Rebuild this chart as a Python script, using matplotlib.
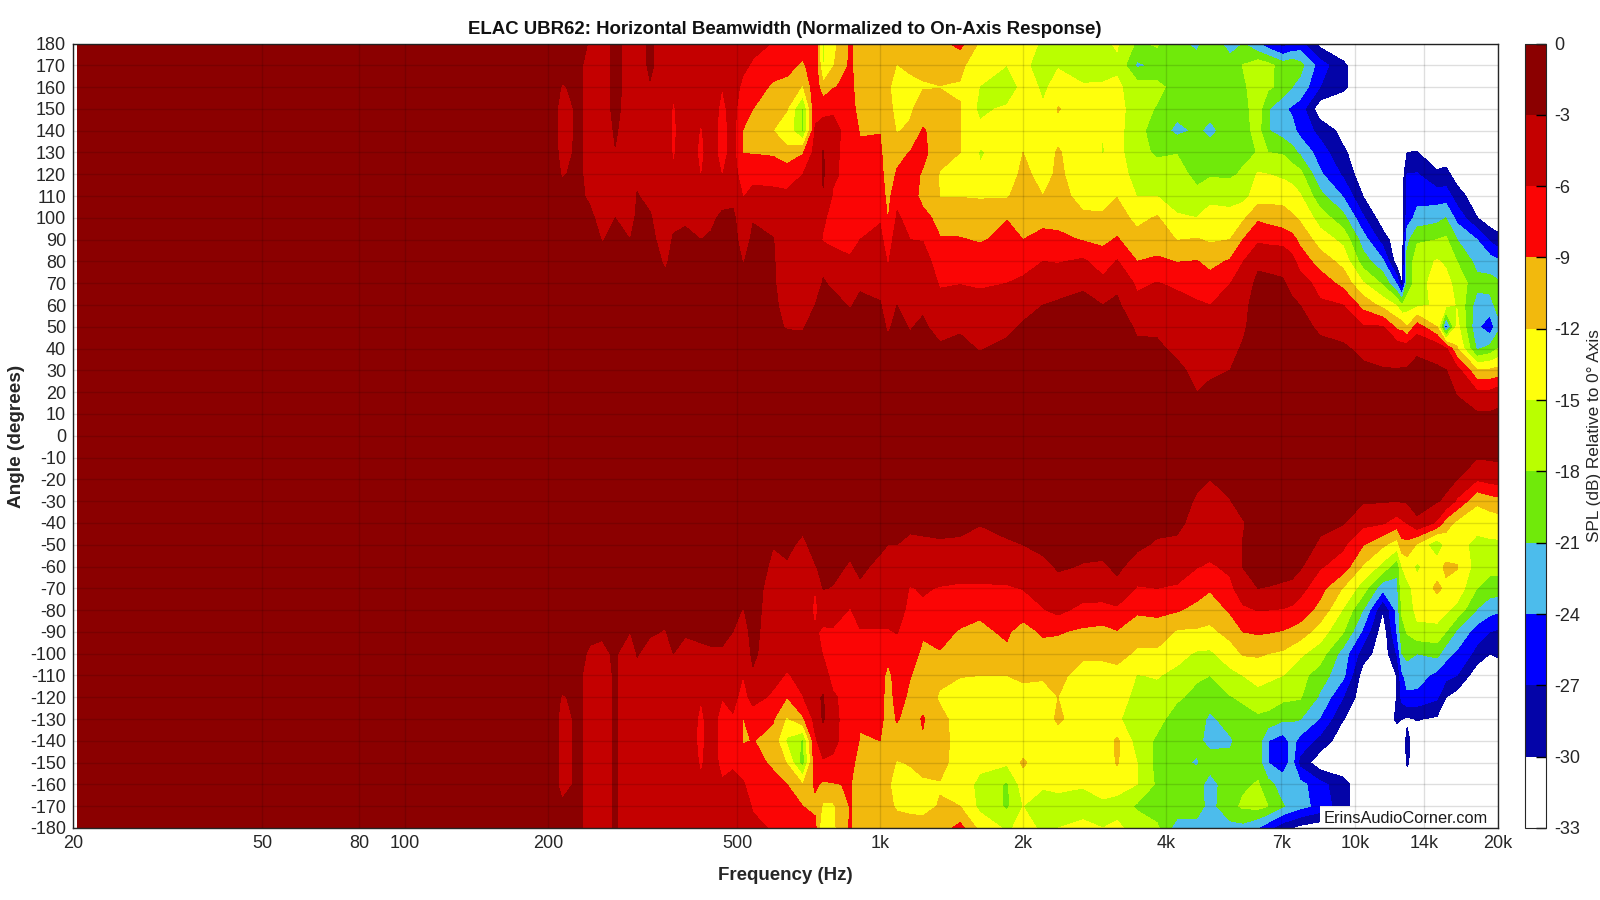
import numpy as np
from matplotlib import pyplot as plt

plt.rcParams["font.family"] = ["Liberation Sans", "DejaVu Sans"]
plt.rcParams["axes.unicode_minus"] = False

freqs = [20.4, 200, 214, 233.6, 245, 260, 277, 298, 308, 328, 353, 367, 389, 420, 441, 465, 490, 515, 540, 595, 637, 688,
         730, 759, 796, 865, 908, 1000, 1039, 1086, 1157, 1231, 1337, 1474, 1623, 1851, 2000, 2203, 2370, 2674,
         2947, 3155, 3476, 3829, 4219, 4648, 4950, 5455, 5809, 6250, 6560, 7050, 7370, 7660, 8440, 9440, 10390, 11450,
         12260, 12560, 12870, 13510, 14880, 15540, 16390, 18060, 19230, 20000]
angles = list(range(-180, 181, 10))

# one row per frequency, angle 0 to +180 in 10 degree steps
upper_db = [
    [0,0,-1,-1,-1,-1,-1,-1,-1,-2,-2,-2,-2,-2,-2,-2,-2,-2,-2],
    [0,0,-1,-1,-1,-1,-1,-1,-1,-2,-2,-2,-2,-2,-2,-2,-2,-2,-2],
    [0,0,-1,-1,-1,-1,-1,-1,-2,-2,-2,-2.5,-3.1,-3.4,-3.5,-3.5,-3.1,-2.5,-2],
    [0,0,-1,-1,-1,-1,-1,-1,-1.5,-2,-2.5,-2.7,-2.7,-2.7,-2.7,-2.7,-2.7,-2.7,-2.7],
    [0,0,-1,-1,-1,-1,-1,-1,-1,-2,-2.6,-3.3,-3.8,-3.8,-3.8,-3.8,-3.8,-3.8,-3.1],
    [0,0,-1,-1,-1,-1,-1,-2,-2.5,-3.1,-3.7,-4.5,-4.5,-4.5,-4.5,-4.5,-4.5,-4.5,-4.5],
    [0,0,-1,-1,-1,-1,-1,-1.5,-2,-2.5,-3,-4,-3.6,-3.1,-2.7,-2.2,-2,-2,-2],
    [0,0,-1,-1,-1,-1,-1,-1.5,-2,-3,-4,-4.5,-4.5,-4.5,-4.5,-4.5,-4.5,-4.5,-4.5],
    [0,0,-1,-1,-1,-1,-1,-1,-1.5,-2,-2.5,-2.9,-3.4,-4.5,-4.5,-4.5,-4.5,-4.5,-4.5],
    [0,0,-1,-1,-1,-1,-1,-1.5,-2,-2.4,-2.8,-3.5,-4.5,-4.5,-4.5,-4.5,-3.2,-2.5,-2.5],
    [0,0,-1,-1,-1,-1,-2,-2.5,-3.3,-4,-4.5,-4.5,-4.5,-4.5,-4.5,-4.5,-4.5,-4.5,-4.5],
    [0,0,-1,-1,-1,-1,-1,-2,-2.4,-2.8,-3.5,-4.5,-5.7,-6.3,-6.5,-6.3,-5.5,-4.5,-4.5],
    [0,0,-1,-1,-1,-1,-1,-1.5,-2,-2.7,-3.2,-4.5,-4.5,-4.5,-4.5,-4.5,-4.5,-4.5,-4.5],
    [0,0,-1,-1,-1,-1,-1,-1.5,-2.3,-3,-3.8,-4.5,-6.1,-6.5,-6.2,-5.5,-4.5,-4.5,-4.5],
    [0,0,-1,-1,-1,-1,-1,-1.5,-2,-2.8,-3.3,-4.2,-4.5,-4.8,-4.8,-4.8,-4.5,-4.5,-4.5],
    [0,0,-1,-1,-1,-1,-1,-1,-2,-2.5,-2.7,-3.6,-6.1,-7,-7,-6.6,-6,-5,-4.5],
    [0,0,-1,-1,-1,-1,-1,-1.5,-2,-2.4,-2.6,-3.5,-4.7,-5,-5,-5,-4.9,-4.8,-4.6],
    [0,0,-1,-1,-1,-1,-1.5,-2.5,-3.1,-3.7,-4.2,-6.1,-7.5,-9.1,-9.1,-7.8,-6.6,-5.5,-5],
    [0,0,-1,-1,-1,-1,-1.5,-2,-2.4,-2.7,-3.1,-5.5,-6.5,-9.2,-9.5,-9,-7.5,-6.3,-5.3],
    [0,-.5,-1,-1.5,-2,-2.7,-2.7,-2.8,-2.8,-2.9,-3.8,-5.5,-6.7,-9.5,-12,-11,-9.5,-7.5,-6.1],
    [0,-.5,-1,-1.5,-2.3,-3.1,-3.5,-3.8,-4.2,-4.5,-5,-5.7,-6.7,-11.5,-13,-11.9,-10,-8,-7],
    [0,-.5,-1,-1.5,-2.6,-3.1,-3.5,-4,-4.5,-5,-5.3,-5.7,-6,-9.3,-18.5,-18.5,-12.3,-9.5,-7.5],
    [0,-.5,-1,-1.5,-2,-2.5,-3,-3.6,-4,-4.5,-4.8,-5,-5,-5,-5.8,-6.5,-7,-7,-7],
    [0,-.5,-1,-1.5,-2,-2.5,-2.7,-2.9,-3.3,-6.3,-5.5,-3.2,-2.7,-2.8,-4.8,-6.8,-11,-15.2,-15.5],
    [0,-.5,-1,-1.5,-2,-2.2,-2.6,-3.2,-5.1,-6.5,-7.1,-6.3,-5.5,-5.3,-4.8,-6.5,-9.2,-12.3,-13],
    [0,-.5,-1,-1.5,-2,-2.5,-3.1,-3.7,-5.8,-6.5,-6.5,-7,-7,-7.3,-7.5,-8,-8.3,-8.5,-8.5],
    [0,-.5,-1,-1.5,-2,-2.2,-2.7,-3.2,-4.5,-6,-7,-7.5,-8,-8.5,-9.2,-10,-10.3,-10.5,-10.5],
    [0,-.5,-1,-1.5,-2,-2.5,-2.9,-3.4,-4,-5.2,-6.3,-7.2,-8,-8.5,-9.1,-10.2,-10.8,-11,-11],
    [0,-.5,-1,-2,-2.6,-3.2,-3.6,-5.5,-6.3,-7.5,-9.2,-10,-10.5,-10.7,-10.8,-11,-11.5,-11,-11],
    [0,-.5,-1,-1.5,-2,-2.6,-3,-3.5,-4,-4.5,-5.6,-6.8,-8.7,-9.8,-12.2,-13,-13.5,-12.1,-11],
    [0,-.5,-1,-2,-2.6,-3.1,-3.5,-3.9,-5,-6,-7,-7.5,-8,-8.9,-11.5,-12.5,-13.5,-11,-10.5],
    [0,-.5,-1,-2,-2.5,-2.7,-3.3,-4,-4.9,-6.1,-8,-10,-9.3,-8.2,-8.7,-10.5,-12.2,-11.5,-10.5],
    [0,-.5,-1,-2,-2.7,-3.7,-5,-6.3,-7.2,-8.8,-10,-12.1,-12.2,-11,-10.5,-10.5,-12.1,-10.5,-10],
    [0,-.5,-1,-2,-2.6,-3.2,-4.6,-6.1,-7,-8.8,-10.5,-12.1,-13.5,-12,-11.9,-11.9,-12.2,-11.5,-8],
    [0,-.5,-1.5,-2.3,-3.1,-3.9,-5.2,-6.3,-7.3,-9.3,-10.8,-12.2,-14.8,-15.2,-14.2,-15.8,-15.1,-13.5,-12.5],
    [0,-.5,-1,-2,-2.6,-3.4,-4.4,-6,-7.2,-8.2,-9.1,-12.3,-13.5,-14,-14,-14.3,-18,-15,-13],
    [0,-.5,-1,-1.5,-2.2,-2.8,-3.6,-5.5,-7,-9,-9.8,-10.5,-11.3,-12,-13,-12,-13.5,-14,-13.5],
    [0,-.5,-1,-1.5,-2,-2.6,-3,-4.5,-6,-8,-10,-12,-13,-13.5,-14,-14.7,-15.5,-17,-15.5],
    [0,-.5,-1,-1.5,-1.8,-2,-2.7,-4,-6.2,-8.3,-10,-11,-11.5,-11.7,-13,-11.8,-14,-15.2,-15.3],
    [0,-.5,-1,-1.5,-1.8,-2,-2.5,-3.3,-5.5,-9.2,-11.5,-13,-13.5,-14,-14,-14,-14.8,-16,-15.5],
    [0,-.5,-1,-1.5,-2,-2.5,-3,-5.2,-7.5,-9.7,-11.6,-13,-13.7,-15.1,-15,-14,-14.7,-16,-15.5],
    [0,-.5,-1,-1.5,-1.8,-2,-2.5,-3.6,-5.8,-8.7,-10.8,-12.1,-13.2,-14,-14,-14,-14.5,-15.5,-14.7],
    [0,-.5,-1,-2,-2.6,-3.3,-5.2,-6.5,-9,-11,-12.8,-15.1,-16.5,-17,-17,-16.5,-16.5,-21.5,-18.5],
    [0,-.5,-1,-2,-2.7,-3.3,-4.8,-5.9,-8.5,-10.5,-11.7,-15,-16.5,-18.5,-19.5,-18.3,-17,-20.5,-17.5],
    [0,-.5,-1.5,-2.6,-3.4,-4,-5.2,-6.4,-9.1,-12.1,-14.6,-16.5,-17,-18.1,-21.8,-20,-19.5,-19.5,-20.5],
    [0,-1,-3,-3.5,-4.2,-4.8,-5.7,-7,-8.9,-11.8,-15,-17.3,-18.8,-19.5,-20.5,-20,-19.5,-20,-21.5],
    [0,-1,-2.5,-3.4,-4,-4.5,-6,-7.9,-9.8,-12.4,-14,-15.7,-18.4,-19.5,-21.8,-20,-19.5,-19.5,-19.5],
    [0,-.5,-2,-3,-3.5,-4,-4.8,-6.1,-8.7,-12,-14.1,-16,-18.5,-19,-19.5,-19,-19,-20,-22],
    [0,-.5,-1,-2,-2.8,-3.3,-3.6,-4.2,-6.1,-9,-12.6,-16,-17.6,-18.7,-19,-19,-18.5,-17.9,-21],
    [0,-.5,-1,-1.5,-1.8,-2,-2,-2.5,-3.4,-6.5,-9.5,-13.5,-14.7,-17.9,-17,-16.5,-16.5,-16,-24],
    [0,-.5,-1,-1.5,-1.8,-2,-2.2,-2.6,-3.5,-6.8,-10,-13.2,-15,-18,-20.8,-20.8,-17.5,-17,-26],
    [0,-.5,-1,-1.5,-1.8,-2,-2.4,-2.8,-3.6,-7.1,-10.8,-13,-15.6,-18.3,-22.5,-23.5,-19,-19.5,-28.5],
    [0,-.5,-1,-1.5,-1.9,-2.2,-2.7,-3.5,-5,-8,-11.5,-13.8,-16,-20,-23,-24.5,-21,-18.7,-27],
    [0,-.5,-1,-1.5,-2,-2.3,-3,-4.5,-7.3,-9.7,-12.5,-14.7,-17,-21.5,-25,-25.5,-22,-20,-26],
    [0,-.5,-1,-1.5,-2.4,-3.4,-5.5,-7.2,-10.3,-13.5,-16.3,-20,-23.5,-25.5,-28,-32,-27,-25.5,-31],
    [0,-.5,-1,-1.5,-2.7,-3.8,-6,-10,-13,-15.8,-20,-24.2,-27.5,-29.5,-31,-32,-29.5,-29.5,-32],
    [0,-.5,-1,-2.6,-3.5,-5.7,-10,-14.7,-19.5,-22.5,-26.5,-30,-32,-32,-32,-32,-32,-32,-32],
    [0,-.5,-1,-2.8,-4.2,-5.8,-13,-18.5,-23.5,-28.5,-32,-32,-32,-32,-32,-32,-32,-32,-32],
    [0,-.5,-1,-2.9,-4.1,-9.7,-15.3,-24.5,-32,-32,-32,-32,-32,-32,-32,-32,-32,-32,-32],
    [0,-.5,-1,-2.8,-4.5,-10,-18,-30,-32,-32,-32,-32,-32,-32,-32,-32,-32,-32,-32],
    [0,-.5,-1,-2.8,-4.2,-12,-16.5,-20,-19.7,-22,-25.5,-26.5,-26.9,-30,-32,-32,-32,-32,-32],
    [0,-.5,-1.5,-2.5,-3.3,-7.5,-15.8,-16.5,-16.7,-18.3,-23,-25,-26.8,-29.9,-32,-32,-32,-32,-32],
    [0,-.5,-1.5,-2.7,-3.9,-12,-14.5,-13.5,-14.7,-18,-22,-25.5,-29.5,-32,-32,-32,-32,-32,-32],
    [0,-1,-2,-2.9,-5.5,-26,-14,-14,-15.5,-17.5,-21,-25.5,-29,-32,-32,-32,-32,-32,-32],
    [0,-2,-3.2,-4.7,-11.7,-14,-15.2,-16,-18,-21,-25,-28.5,-31.5,-32,-32,-32,-32,-32,-32],
    [0,-2.7,-5.5,-11.5,-21.5,-23.5,-22.5,-20,-22,-24,-29.9,-32,-32,-32,-32,-32,-32,-32,-32],
    [0,-2.7,-5.5,-11.5,-20,-26,-22,-20,-22.5,-27.5,-32,-32,-32,-32,-32,-32,-32,-32,-32],
    [0,-2.5,-4.5,-11,-18,-22,-20,-20.5,-23.5,-29,-32,-32,-32,-32,-32,-32,-32,-32,-32],
]

# one row per frequency, angle 0 to -180 in 10 degree steps
lower_db = [
    [0,0,-1,-1,-1,-1,-1,-1,-1,-2,-2,-2,-2,-2,-2,-2,-2,-2,-2],
    [0,0,-1,-1,-1,-1,-1,-1,-1,-2,-2,-2,-2,-2,-2,-2,-2,-2,-2],
    [0,0,-1,-1,-1,-1,-1,-1,-2,-2,-2.3,-2.5,-3.1,-3.4,-3.4,-3.4,-3.4,-2.8,-2],
    [0,0,-1,-1,-1,-1,-1,-1,-1.5,-2,-2.5,-2.7,-2.7,-2.7,-2.7,-2.7,-2.7,-2.7,-2.7],
    [0,0,-1,-1,-1,-1,-1,-1,-2,-2.5,-3.3,-4,-4,-4,-4,-4,-4,-4,-3.9],
    [0,0,-1,-1,-1,-1,-1,-1,-2,-2.8,-3.3,-4,-4,-4,-4,-4,-4,-4,-4],
    [0,0,-1,-1,-1,-1,-1,-1,-2,-2.3,-2.8,-2.7,-2.7,-2.7,-2.7,-2.7,-2.7,-2.7,-2.7],
    [0,0,-1,-1,-1,-1,-1,-2,-2.5,-3,-4,-4.5,-4.5,-4.5,-4.5,-4.5,-4.5,-4.5,-4.5],
    [0,0,-1,-1,-1,-1,-1,-1,-2,-2.4,-2.9,-3.5,-4.5,-4.5,-4.5,-4.5,-4.5,-4.5,-4.5],
    [0,0,-1,-1,-1,-1,-1,-2,-2.4,-2.8,-3.6,-4.5,-4.5,-4.5,-4.5,-4.5,-4.5,-4.5,-4.5],
    [0,0,-1,-1,-1,-1,-1,-2,-2.5,-3.1,-3.8,-4.5,-4.5,-4.5,-4.5,-4.5,-4.5,-4.5,-4.5],
    [0,0,-1,-1,-1,-1,-1,-1.5,-2,-2.4,-3,-4,-4.5,-4.5,-4.5,-4.5,-4.5,-4.5,-4.5],
    [0,0,-1,-1,-1,-1,-1,-1.5,-2,-2.8,-3.6,-4.5,-4.5,-4.5,-4.5,-4.5,-4.5,-4.5,-4.5],
    [0,0,-1,-1,-1,-1,-1,-1.5,-2,-2.7,-3.3,-4.5,-5.9,-6.5,-6.6,-6.3,-5.7,-4.8,-4.5],
    [0,0,-1,-1,-1,-1,-1,-1.5,-2,-2.6,-3.2,-4.3,-4.7,-4.8,-4.8,-4.8,-4.7,-4.7,-4.5],
    [0,0,-1,-1,-1,-1,-1,-1.5,-2,-2.6,-3.2,-4.3,-5.9,-7,-7,-6.7,-5.7,-5,-4.5],
    [0,0,-1,-1,-1,-1,-1,-2,-2.5,-3,-3.5,-4.5,-5.2,-6.3,-6.6,-6.5,-5,-4.8,-4.5],
    [0,0,-1,-1,-1,-1,-1,-2.3,-3.1,-3.6,-4,-6,-7,-9.1,-9.3,-7,-5.8,-5,-4.7],
    [0,0,-1,-1,-1,-1,-1.5,-2,-2.3,-2.5,-2.7,-3.2,-5,-7.5,-8.9,-8,-7,-6.2,-5.5],
    [0,-.5,-1,-1.5,-2,-2.9,-3.5,-4,-4,-4,-4,-5,-6.5,-8.7,-10,-9.5,-8,-7,-6.2],
    [0,-.5,-1,-1.5,-2,-2.6,-3.2,-3.6,-3.8,-4,-4.5,-6.3,-9,-12.5,-15.5,-12.2,-9,-7.5,-6.5],
    [0,-.5,-1,-1.5,-2.5,-3.4,-3.7,-4,-4.5,-4.7,-4.8,-5,-6.1,-9.5,-18.5,-19.5,-12,-9,-7],
    [0,-.5,-1,-1.5,-2,-2.3,-3.1,-6,-6.5,-5.8,-4.5,-4.5,-3.5,-5,-6.5,-7,-8.5,-9.8,-8],
    [0,-.5,-1,-1.5,-2,-2.3,-2.6,-2.9,-5,-6.3,-6.2,-4.5,-2.8,-2.7,-4.5,-6.3,-9.5,-12.5,-15.3],
    [0,-.5,-1,-1.5,-2,-2.2,-2.5,-3.1,-4.5,-6.4,-7,-7.2,-5.5,-5.2,-5.3,-6.5,-9.2,-12.5,-12.7],
    [0,-.5,-1,-1.5,-2,-2.5,-3.2,-4.7,-6.2,-7,-7.5,-7.5,-7.5,-7.5,-7.5,-7.8,-8.8,-8.8,-8.7],
    [0,-.5,-1,-1.5,-2,-2.2,-2.6,-3.3,-4.7,-6.2,-7,-7.2,-7.5,-8.7,-9.2,-10.5,-10.5,-10.5,-10.5],
    [0,-.5,-1,-1.5,-2,-2.6,-3.5,-4,-4.5,-6.3,-7,-7.5,-7.8,-8.3,-9,-10.2,-10.5,-10.8,-10.8],
    [0,-.5,-1,-1.5,-2.6,-3,-3.3,-4,-5,-6.2,-8,-10,-10.3,-10,-9.9,-11,-11.5,-11.5,-11],
    [0,-.5,-1,-1.5,-2.5,-3,-3.5,-4.2,-4.8,-5.9,-7,-7.5,-8,-8.8,-10,-12.2,-13.5,-12.3,-11],
    [0,-.5,-1,-2,-2.6,-3.4,-3.7,-6.2,-6.8,-7.3,-8,-8.9,-9.5,-10,-10.5,-11.8,-13,-12.6,-11],
    [0,-.5,-1,-2,-2.7,-3.2,-3.8,-5.7,-6.5,-8.7,-9.5,-10,-9.9,-8.8,-9.2,-11,-12.5,-12.8,-11],
    [0,-.5,-1,-2,-2.5,-3.2,-4,-6.2,-7,-8,-9.2,-11,-12.5,-11,-10.7,-11,-12.2,-11.8,-10.5],
    [0,-.5,-1,-2,-2.5,-3.3,-5,-6.3,-7.5,-9.3,-10,-11.9,-13,-13.5,-13.5,-13.5,-14,-12,-8],
    [0,-.5,-1,-2,-2.9,-3.7,-4.6,-6.4,-8.6,-9.5,-10.5,-12,-13.5,-14,-14.2,-14.5,-15.5,-15.8,-13],
    [0,-.5,-1,-2,-2.5,-3.2,-4.5,-6.3,-7.5,-8.6,-9.5,-12,-13.5,-13.8,-14,-14.5,-18.5,-18.5,-15.5],
    [0,-.5,-1,-1.5,-2.2,-3,-4,-5.9,-7.6,-10.3,-10.5,-11.5,-13,-13.5,-14,-11.5,-13.5,-15,-14],
    [0,-.5,-1,-1.5,-2,-2.5,-3.5,-4.6,-6.2,-8.5,-10.5,-11.7,-13,-13.5,-14,-14.2,-14.3,-17.5,-15.5],
    [0,-.5,-1,-1.5,-1.8,-2.2,-2.8,-3.6,-5.2,-8.8,-10,-11.4,-12,-11.5,-13.5,-14,-14.7,-15.5,-15],
    [0,-.5,-1,-1.5,-1.8,-2.5,-3.1,-4.2,-7,-9.5,-11.5,-13,-13.6,-13.7,-14,-14,-14.5,-17.5,-13.5],
    [0,-.5,-1,-1.5,-1.8,-2.5,-3.2,-4,-7.2,-9.8,-11.5,-13,-14.2,-14.8,-14,-14,-14,-15.5,-15],
    [0,-.5,-1,-1.5,-1.8,-2.2,-2.7,-3.4,-6.6,-9.2,-11,-13,-13.5,-14.5,-11.5,-11.7,-14,-16,-14.5],
    [0,-.5,-1,-1.5,-2,-2.7,-3.6,-6.3,-8.5,-10.8,-12.5,-15.1,-16,-17,-16.3,-15,-15,-18.5,-16],
    [0,-.5,-1,-2,-2.5,-3.2,-4.5,-6,-8.5,-10,-12.7,-14.8,-16,-17,-18.5,-19,-18.5,-19.5,-17.5],
    [0,-.5,-1,-2,-2.5,-3.4,-4.3,-6.4,-8.7,-12.4,-14,-15.8,-17.5,-19.5,-20,-20.5,-18.7,-19,-22.5],
    [0,-1,-2.5,-3.3,-3.8,-4.4,-5.9,-7.5,-10,-12.4,-15.4,-17.5,-19,-19.5,-20.5,-21.2,-20,-19.8,-22],
    [0,-2.4,-3,-3.7,-4.3,-5,-6.3,-8.7,-10.7,-12.7,-15.5,-18,-19.5,-21.7,-21.7,-20,-22,-22,-22],
    [0,-1,-2.3,-3.1,-3.8,-4.4,-5.5,-6.6,-8.6,-11,-13.5,-15.8,-18.2,-19.5,-21.5,-20,-19.5,-19,-22],
    [0,-.5,-1.5,-2,-3.2,-2.9,-2.9,-4.5,-6.5,-9,-11.7,-15,-17.5,-19.2,-19.5,-19.5,-18.5,-17.5,-22],
    [0,-.5,-1,-1.5,-1.7,-1.8,-1.8,-3,-5.9,-8.6,-11.6,-14,-16,-18.7,-19.5,-19.5,-17.7,-17,-24],
    [0,-.5,-1,-1.5,-1.7,-1.8,-1.9,-3.1,-6,-8.8,-12,-14.4,-16.4,-19,-24,-24,-20,-18,-26],
    [0,-.5,-1,-1.5,-1.7,-1.8,-2,-3.4,-6.2,-9.2,-12.5,-15,-17.3,-20.5,-25.5,-25.5,-22.5,-20.8,-29],
    [0,-.5,-1,-1.5,-1.7,-1.9,-2.3,-3.5,-6.7,-9.8,-13.5,-16,-17.5,-20.7,-23,-23,-22,-22,-30],
    [0,-.5,-1,-1.5,-1.7,-2,-2.6,-5,-7.3,-10.4,-14.5,-17,-17.7,-20.9,-25,-28,-23,-23,-31],
    [0,-.5,-1,-1.5,-2.5,-3.3,-5.7,-8,-10,-13.5,-16.5,-19.5,-21.5,-24.2,-28,-32,-26,-25,-32],
    [0,-.5,-1,-2,-2.8,-5.5,-7.4,-12.2,-15.3,-17.8,-22.4,-23.3,-27,-29.9,-32,-32,-29,-29,-32],
    [0,-.5,-1.5,-2.7,-5.2,-8.8,-12.3,-16.5,-21,-24.6,-28.5,-31.5,-32,-32,-32,-32,-32,-32,-32],
    [0,-.5,-1.5,-2.8,-5.7,-11.5,-16,-23.2,-29.9,-32,-32,-32,-32,-32,-32,-32,-32,-32,-32],
    [0,-.5,-1.5,-3,-7.5,-13.5,-20,-22,-23,-23.7,-26.7,-29.9,-29.9,-29.5,-32,-32,-32,-32,-32],
    [0,-.5,-1.5,-2.8,-6.5,-10,-15,-15.6,-17.5,-19,-21,-24.5,-26,-30,-32,-32,-32,-32,-32],
    [0,-.5,-1.5,-2.7,-5.9,-9.9,-13.8,-15.7,-17,-17.8,-20,-23,-24.5,-30.5,-29.2,-29.6,-32,-32,-32],
    [0,-.5,-1.5,-2.2,-3.4,-12.3,-15.5,-14,-14,-16,-21,-22.5,-25,-29.8,-32,-32,-32,-32,-32],
    [0,-.5,-1.5,-2.8,-6.5,-17.5,-13,-11.5,-13.5,-16,-20,-25,-26.5,-30.5,-32,-32,-32,-32,-32],
    [0,-1,-2.2,-3.5,-10.5,-14,-11.5,-12.5,-14.5,-18,-23,-26,-30,-32,-32,-32,-32,-32,-32],
    [0,-2.2,-3,-6.5,-12.8,-14,-11.8,-13.2,-16,-21.5,-24.5,-27,-31.5,-32,-32,-32,-32,-32,-32],
    [0,-2.8,-5.7,-11.5,-14,-15.8,-16.5,-18,-21.2,-25.5,-28,-32,-32,-32,-32,-32,-32,-32,-32],
    [0,-2.7,-5,-10.5,-13.8,-15.5,-17,-19.5,-23,-27,-30,-32,-32,-32,-32,-32,-32,-32,-32],
    [0,-2.6,-4.7,-10,-13.5,-15.5,-17,-19.5,-23.5,-27.5,-29.5,-32,-32,-32,-32,-32,-32,-32,-32],
]

levels = list(range(-33, 1, 3))
band_colors = ["#ffffff", "#0404a8", "#0000ff", "#4cbcec", "#70ea0a", "#baff00",
               "#ffff0c", "#f2b90d", "#fb0505", "#c40000", "#8b0000"]
freq_ticks = [20, 50, 80, 100, 200, 500, 1000, 2000, 4000, 7000, 10000, 14000, 20000]
freq_labels = ["20", "50", "80", "100", "200", "500", "1k", "2k", "4k", "7k", "10k", "14k", "20k"]
angle_ticks = list(range(-180, 181, 10))

db = np.vstack([np.array(lower_db)[:, :0:-1].T, np.array(upper_db).T])

fig = plt.figure(figsize=(16, 9), dpi=100)
ax = fig.add_axes([73 / 1600, 1 - 828 / 900, 1425 / 1600, 784.5 / 900])
cf = ax.contourf(freqs, angles, db, levels=levels, colors=band_colors)

ax.set_xscale("log")
ax.set_xlim(20, 20000)
ax.set_ylim(-180, 180)
ax.set_xticks(freq_ticks, freq_labels)
ax.set_xticks([], minor=True)
ax.set_yticks(angle_ticks)
ax.tick_params(length=0, labelsize=13, labelcolor="#262626", pad=5)
ax.grid(True, color="k", alpha=0.13, lw=1)
ax.set_axisbelow(False)
for side in ax.spines.values():
    side.set_color("#262626")
    side.set_linewidth(1)

ax.text(0.993, 0.0127, "ErinsAudioCorner.com", transform=ax.transAxes, ha="right", va="center", fontsize=11.8,
        color="#1a1a1a", zorder=2.2, bbox=dict(fc="white", ec="none", pad=3))

fig.text(785 / 1600, 1 - 30 / 900, "ELAC UBR62: Horizontal Beamwidth (Normalized to On-Axis Response)",
         ha="center", va="center", fontsize=13.4, fontweight="bold", color="#111111")
fig.text(785 / 1600, 1 - 875 / 900, "Frequency (Hz)", ha="center", va="center", fontsize=13.5, fontweight="bold",
         color="#262626")
fig.text(17 / 1600, 1 - 436 / 900, "Angle (degrees)", ha="center", va="center", rotation=90, fontsize=13.7,
         fontweight="bold", color="#262626")

cax = fig.add_axes([1525 / 1600, 1 - 828 / 900, 20.5 / 1600, 784.5 / 900])
bar = fig.colorbar(cf, cax=cax, ticks=levels)
bar.ax.tick_params(length=7, width=1, direction="in", labelsize=13, labelcolor="#262626", pad=6)
bar.outline.set_edgecolor("#262626")
fig.text(1594 / 1600, 1 - 436 / 900, "SPL (dB) Relative to 0\u00b0 Axis", ha="center", va="center", rotation=90,
         fontsize=12.4, color="#262626")

fig.savefig("out.png", dpi=100)
